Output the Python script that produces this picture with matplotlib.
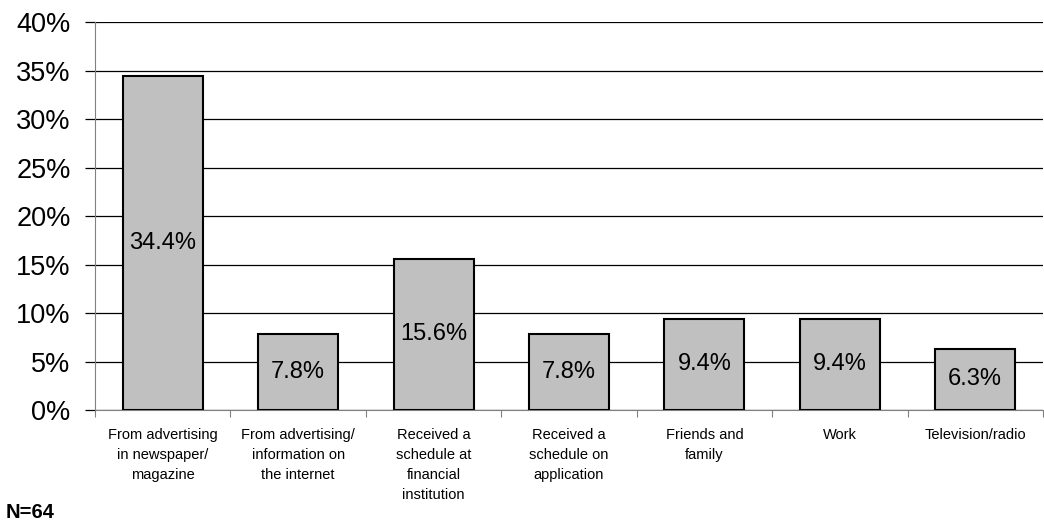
import numpy as np
import matplotlib.pyplot as plt

plt.rcParams['font.family'] = ['Liberation Sans', 'DejaVu Sans']

categories = ['From advertising\nin newspaper/\nmagazine',
              'From advertising/\ninformation on\nthe internet',
              'Received a\nschedule at\nfinancial\ninstitution',
              'Received a\nschedule on\napplication',
              'Friends and\nfamily',
              'Work',
              'Television/radio']
shares = [34.4, 7.8, 15.6, 7.8, 9.4, 9.4, 6.3]
yticks = [0, 5, 10, 15, 20, 25, 30, 35, 40]

fig = plt.figure(figsize=(10.44, 5.26), dpi=100)
ax = fig.add_axes([0.091, 0.2205, 0.908, 0.7375])

x = np.arange(len(categories))
bars = ax.bar(x, shares, width=0.59, color='#c0c0c0', edgecolor='black',
              linewidth=1.5, zorder=3)
ax.bar_label(bars, labels=['%.1f%%' % v for v in shares], label_type='center',
             fontsize=17, zorder=4)

ax.set_xlim(-0.5, len(categories) - 0.5)
ax.set_ylim(0, 40)
ax.set_yticks(yticks)
ax.set_yticklabels(['%d%%' % t for t in yticks], fontsize=19.5)
ax.yaxis.grid(True, color='black', linewidth=0.9, zorder=0)
ax.tick_params(axis='y', length=7.5, width=0.9, color='black', pad=10)

# categories sit between ticks drawn at the boundaries
ax.set_xticks(np.arange(len(categories) + 1) - 0.5)
ax.set_xticklabels([])
ax.set_xticks(x, minor=True)
ax.set_xticklabels(categories, minor=True, fontsize=10.5, linespacing=1.55)
ax.tick_params(axis='x', which='major', length=5, color='#808080', direction='out')
ax.tick_params(axis='x', which='minor', length=0, pad=13)

for side in ['top', 'right']:
    ax.spines[side].set_visible(False)
ax.spines['left'].set_color('#808080')
ax.spines['bottom'].set_color('#808080')

fig.text(0.005, 0.008, 'N=64', fontsize=14.5, fontweight='bold', ha='left', va='bottom')

fig.savefig('out.png', dpi=100)
